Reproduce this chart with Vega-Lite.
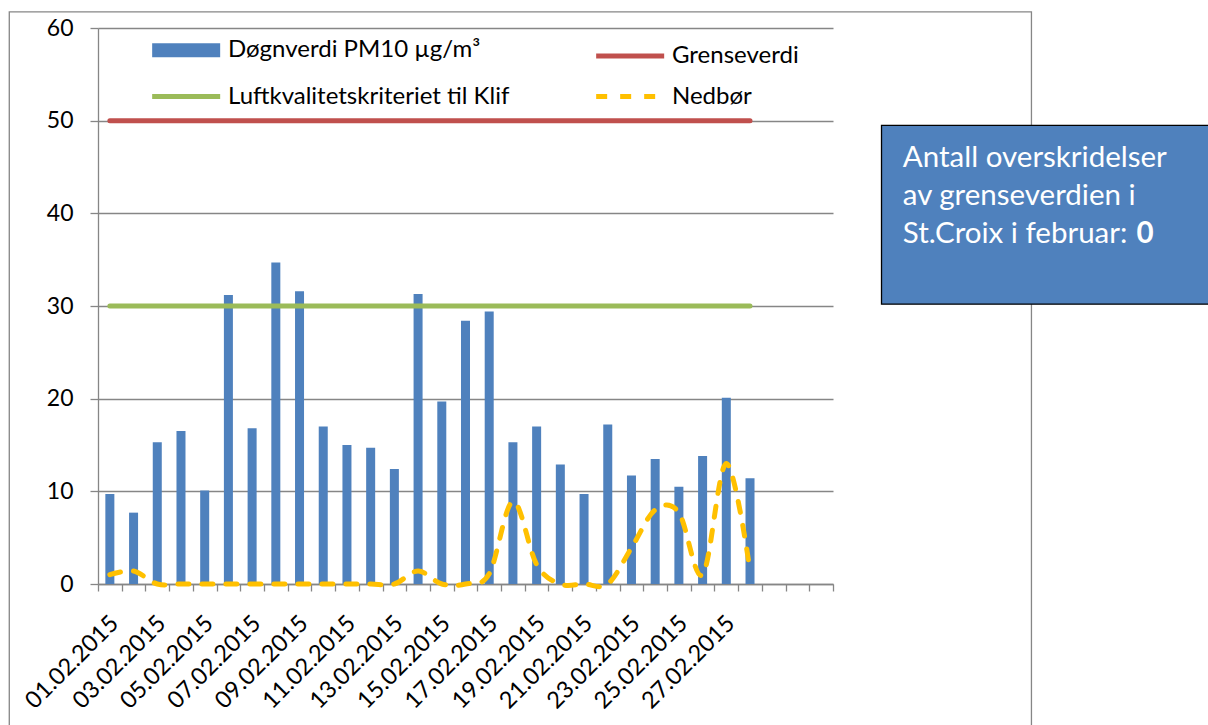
{
  "$schema": "https://vega.github.io/schema/vega-lite/v6.json",
  "width": 735,
  "height": 556,
  "autosize": {"type": "none"},
  "padding": {"left": 98, "top": 28, "right": 375, "bottom": 141},
  "background": "white",
  "config": {
    "font": "Lato",
    "view": {"stroke": null},
    "axis": {
      "labelFont": "Lato",
      "labelFontSize": 22,
      "labelColor": "#000000",
      "domainColor": "#868686",
      "domainWidth": 1.3,
      "tickColor": "#868686",
      "tickWidth": 1.3,
      "gridColor": "#868686",
      "gridWidth": 1.3
    }
  },
  "datasets": {
    "pm": [
      {"dato": "01.02.2015", "pm10": 9.7, "Grenseverdi": 50, "Luftkvalitetskriteriet til Klif": 30, "Nedbør": 1.0},
      {"dato": "02.02.2015", "pm10": 7.7, "Grenseverdi": 50, "Luftkvalitetskriteriet til Klif": 30, "Nedbør": 1.4},
      {"dato": "03.02.2015", "pm10": 15.3, "Grenseverdi": 50, "Luftkvalitetskriteriet til Klif": 30, "Nedbør": 0},
      {"dato": "04.02.2015", "pm10": 16.5, "Grenseverdi": 50, "Luftkvalitetskriteriet til Klif": 30, "Nedbør": 0},
      {"dato": "05.02.2015", "pm10": 10.1, "Grenseverdi": 50, "Luftkvalitetskriteriet til Klif": 30, "Nedbør": 0},
      {"dato": "06.02.2015", "pm10": 31.2, "Grenseverdi": 50, "Luftkvalitetskriteriet til Klif": 30, "Nedbør": 0},
      {"dato": "07.02.2015", "pm10": 16.8, "Grenseverdi": 50, "Luftkvalitetskriteriet til Klif": 30, "Nedbør": 0},
      {"dato": "08.02.2015", "pm10": 34.7, "Grenseverdi": 50, "Luftkvalitetskriteriet til Klif": 30, "Nedbør": 0},
      {"dato": "09.02.2015", "pm10": 31.6, "Grenseverdi": 50, "Luftkvalitetskriteriet til Klif": 30, "Nedbør": 0},
      {"dato": "10.02.2015", "pm10": 17.0, "Grenseverdi": 50, "Luftkvalitetskriteriet til Klif": 30, "Nedbør": 0},
      {"dato": "11.02.2015", "pm10": 15.0, "Grenseverdi": 50, "Luftkvalitetskriteriet til Klif": 30, "Nedbør": 0},
      {"dato": "12.02.2015", "pm10": 14.7, "Grenseverdi": 50, "Luftkvalitetskriteriet til Klif": 30, "Nedbør": 0},
      {"dato": "13.02.2015", "pm10": 12.4, "Grenseverdi": 50, "Luftkvalitetskriteriet til Klif": 30, "Nedbør": 0},
      {"dato": "14.02.2015", "pm10": 31.3, "Grenseverdi": 50, "Luftkvalitetskriteriet til Klif": 30, "Nedbør": 1.4},
      {"dato": "15.02.2015", "pm10": 19.7, "Grenseverdi": 50, "Luftkvalitetskriteriet til Klif": 30, "Nedbør": 0},
      {"dato": "16.02.2015", "pm10": 28.4, "Grenseverdi": 50, "Luftkvalitetskriteriet til Klif": 30, "Nedbør": 0},
      {"dato": "17.02.2015", "pm10": 29.4, "Grenseverdi": 50, "Luftkvalitetskriteriet til Klif": 30, "Nedbør": 1.1},
      {"dato": "18.02.2015", "pm10": 15.3, "Grenseverdi": 50, "Luftkvalitetskriteriet til Klif": 30, "Nedbør": 8.9},
      {"dato": "19.02.2015", "pm10": 17.0, "Grenseverdi": 50, "Luftkvalitetskriteriet til Klif": 30, "Nedbør": 2.1},
      {"dato": "20.02.2015", "pm10": 12.9, "Grenseverdi": 50, "Luftkvalitetskriteriet til Klif": 30, "Nedbør": 0},
      {"dato": "21.02.2015", "pm10": 9.7, "Grenseverdi": 50, "Luftkvalitetskriteriet til Klif": 30, "Nedbør": 0},
      {"dato": "22.02.2015", "pm10": 17.2, "Grenseverdi": 50, "Luftkvalitetskriteriet til Klif": 30, "Nedbør": 0},
      {"dato": "23.02.2015", "pm10": 11.7, "Grenseverdi": 50, "Luftkvalitetskriteriet til Klif": 30, "Nedbør": 3.9},
      {"dato": "24.02.2015", "pm10": 13.5, "Grenseverdi": 50, "Luftkvalitetskriteriet til Klif": 30, "Nedbør": 8.0},
      {"dato": "25.02.2015", "pm10": 10.5, "Grenseverdi": 50, "Luftkvalitetskriteriet til Klif": 30, "Nedbør": 7.7},
      {"dato": "26.02.2015", "pm10": 13.8, "Grenseverdi": 50, "Luftkvalitetskriteriet til Klif": 30, "Nedbør": 1.0},
      {"dato": "27.02.2015", "pm10": 20.1, "Grenseverdi": 50, "Luftkvalitetskriteriet til Klif": 30, "Nedbør": 13.0},
      {"dato": "28.02.2015", "pm10": 11.4, "Grenseverdi": 50, "Luftkvalitetskriteriet til Klif": 30, "Nedbør": 1.5}
    ]
  },
  "resolve": {"scale": {"x": "independent"}},
  "layer": [
    {
      "data": {"name": "pm"},
      "layer": [
        {
          "mark": {"type": "bar", "width": {"band": 0.38}, "color": "#4F81BD"},
          "encoding": {
            "x": {
              "field": "dato", "type": "nominal", "title": null,
              "scale": {"type": "band", "paddingInner": 0, "paddingOuter": 0,
                "domain": ["01.02.2015","02.02.2015","03.02.2015","04.02.2015","05.02.2015","06.02.2015","07.02.2015","08.02.2015","09.02.2015","10.02.2015","11.02.2015","12.02.2015","13.02.2015","14.02.2015","15.02.2015","16.02.2015","17.02.2015","18.02.2015","19.02.2015","20.02.2015","21.02.2015","22.02.2015","23.02.2015","24.02.2015","25.02.2015","26.02.2015","27.02.2015","28.02.2015","29.02.2015","30.02.2015","31.02.2015"]},
              "axis": {
                "orient": "bottom", "tickBand": "extent", "tickSize": 7, "grid": false,
                "labelAngle": -45, "labelAlign": "right", "labelBaseline": "top", "labelPadding": 20,
                "labelOffset": -4,
                "labelOverlap": false, "labelBound": false, "labelFontSize": 23.5,
                "labelExpr": "toNumber(substring(datum.value,0,2)) % 2 == 1 && toNumber(substring(datum.value,0,2)) <= 27 ? datum.value : ''"
              }
            },
            "y": {
              "field": "pm10", "type": "quantitative", "title": null,
              "scale": {"domain": [0, 60], "nice": false},
              "axis": {"values": [0,10,20,30,40,50,60], "grid": true, "tickSize": 8, "labelPadding": 17, "labelFontSize": 23}
            }
          }
        },
        {
          "transform": [{"fold": ["Grenseverdi", "Luftkvalitetskriteriet til Klif", "Nedbør"], "as": ["serie", "verdi"]}],
          "mark": {"type": "line", "interpolate": "cardinal", "tension": 0, "strokeCap": "round", "strokeJoin": "round"},
          "encoding": {
            "x": {
              "field": "dato", "type": "nominal", "title": null,
              "scale": {"type": "band", "paddingInner": 0, "paddingOuter": 0,
                "domain": ["01.02.2015","02.02.2015","03.02.2015","04.02.2015","05.02.2015","06.02.2015","07.02.2015","08.02.2015","09.02.2015","10.02.2015","11.02.2015","12.02.2015","13.02.2015","14.02.2015","15.02.2015","16.02.2015","17.02.2015","18.02.2015","19.02.2015","20.02.2015","21.02.2015","22.02.2015","23.02.2015","24.02.2015","25.02.2015","26.02.2015","27.02.2015","28.02.2015","29.02.2015","30.02.2015","31.02.2015"]}
            },
            "y": {"field": "verdi", "type": "quantitative", "title": null, "scale": {"domain": [0, 60], "nice": false}},
            "detail": {"field": "serie", "type": "nominal"},
            "color": {
              "field": "serie", "type": "nominal", "title": null,
              "scale": {"domain": ["Døgnverdi PM10 µg/m³", "Grenseverdi", "Luftkvalitetskriteriet til Klif", "Nedbør"],
                        "range": ["#4F81BD", "#C0504D", "#9BBB59", "#FFC000"]},
              "legend": {
                "orient": "none", "legendX": 47, "legendY": 3.5, "columns": 2, "direction": "horizontal", "title": null,
                "symbolType": "M-1,0H5", "symbolSize": 514, "labelOffset": 46,
                "labelFont": "Lato", "labelFontSize": 24, "labelColor": "#000000", "labelLimit": 500,
                "columnPadding": 76, "rowPadding": 4, "gridAlign": "each", "padding": 0, "symbolOpacity": 1
              }
            },
            "strokeDash": {
              "field": "serie", "type": "nominal", "title": null,
              "scale": {"domain": ["Døgnverdi PM10 µg/m³", "Grenseverdi", "Luftkvalitetskriteriet til Klif", "Nedbør"],
                        "range": [[1, 0], [1, 0], [1, 0], [11, 13]]}
            },
            "strokeWidth": {
              "field": "serie", "type": "nominal", "title": null,
              "scale": {"type": "ordinal", "domain": ["Døgnverdi PM10 µg/m³", "Grenseverdi", "Luftkvalitetskriteriet til Klif", "Nedbør"],
                        "range": [14, 5, 5, 5]}
            }
          }
        }
      ]
    },
    {
      "data": {"values": [{}]},
      "layer": [
        {
          "mark": {"type": "rect", "fill": null, "fillOpacity": 0, "stroke": "#868686", "strokeWidth": 1.3},
          "encoding": {
            "x": {"datum": -12.07, "type": "quantitative", "scale": {"domain": [0, 100], "nice": false, "zero": false}, "axis": null},
            "x2": {"datum": 127.0},
            "y": {"datum": 61.74, "type": "quantitative", "scale": {"domain": [0, 60], "nice": false}},
            "y2": {"datum": -16}
          }
        },
        {
          "mark": {"type": "rect", "fill": "#4F81BD", "stroke": "#000000", "strokeWidth": 1.3},
          "encoding": {
            "x": {"datum": 106.6, "type": "quantitative", "scale": {"domain": [0, 100], "nice": false, "zero": false}, "axis": null},
            "x2": {"datum": 152},
            "y": {"datum": 49.5, "type": "quantitative", "scale": {"domain": [0, 60], "nice": false}},
            "y2": {"datum": 30.2}
          }
        },
        {
          "mark": {"type": "text", "align": "left", "baseline": "alphabetic", "font": "Lato", "fontSize": 29.5, "color": "#FFFFFF", "lineBreak": "\n", "lineHeight": 38.3},
          "encoding": {
            "x": {"datum": 109.5, "type": "quantitative", "scale": {"domain": [0, 100], "nice": false, "zero": false}, "axis": null},
            "y": {"datum": 45.05, "type": "quantitative", "scale": {"domain": [0, 60], "nice": false}},
            "text": {"value": "Antall overskridelser\nav grenseverdien i\nSt.Croix i februar:"}
          }
        },
        {
          "mark": {"type": "text", "align": "left", "baseline": "alphabetic", "font": "Lato", "fontSize": 29.5, "fontWeight": "bold", "color": "#FFFFFF"},
          "encoding": {
            "x": {"datum": 141.3, "type": "quantitative", "scale": {"domain": [0, 100], "nice": false, "zero": false}, "axis": null},
            "y": {"datum": 36.8, "type": "quantitative", "scale": {"domain": [0, 60], "nice": false}},
            "text": {"value": "0"}
          }
        }
      ]
    }
  ]
}
